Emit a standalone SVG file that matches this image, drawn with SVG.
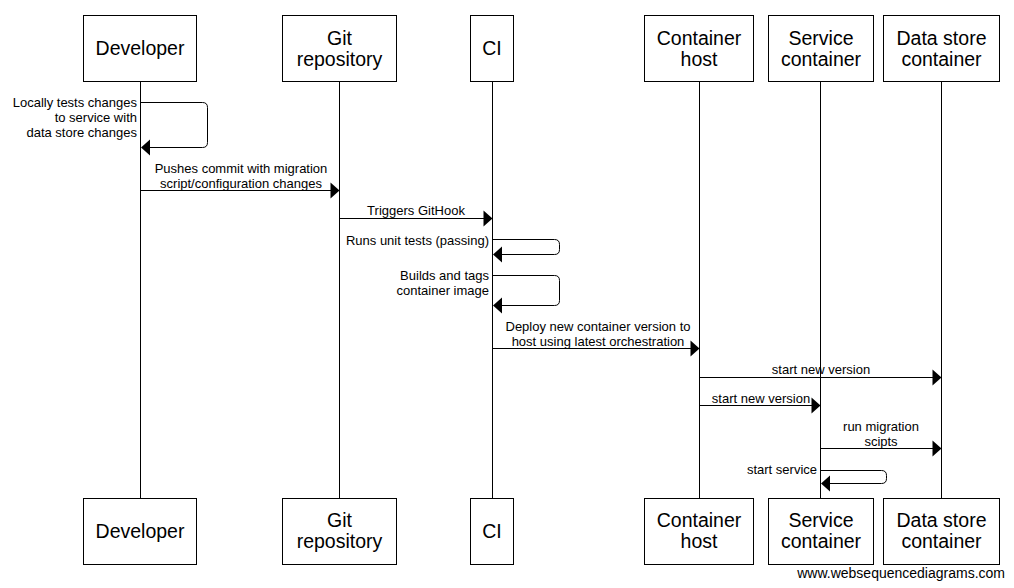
<svg xmlns="http://www.w3.org/2000/svg" width="1014" height="588" viewBox="0 0 1014 588">
<style>
.box{fill:#fff;stroke:#000;stroke-width:1}
.life{stroke:#000;stroke-width:1}
.t{font-family:"Liberation Sans",Arial,sans-serif;font-size:19.5px;text-anchor:middle;fill:#000}
.m{font-family:"Liberation Sans",Arial,sans-serif;font-size:13px;fill:#000}
.c{text-anchor:middle}
.r{text-anchor:end}
.ln{fill:none;stroke:#000;stroke-width:1}
.ah{fill:#000}
</style>
<rect width="1014" height="588" fill="#fff"/>
<g id="lifelines">
<line class="life" x1="140.5" y1="81" x2="140.5" y2="498"/>
<line class="life" x1="339.5" y1="81" x2="339.5" y2="498"/>
<line class="life" x1="492.5" y1="81" x2="492.5" y2="498"/>
<line class="life" x1="699.5" y1="81" x2="699.5" y2="498"/>
<line class="life" x1="820.5" y1="81" x2="820.5" y2="498"/>
<line class="life" x1="941.5" y1="81" x2="941.5" y2="498"/>
</g>
<g id="developer">
<rect class="box" x="83.5" y="15.5" width="113" height="66"/>
<text class="t" x="140" y="55">Developer</text>
<rect class="box" x="83.5" y="498.5" width="113" height="66"/>
<text class="t" x="140" y="538">Developer</text>
</g>
<g id="git">
<rect class="box" x="282.5" y="15.5" width="114" height="66"/>
<text class="t" x="339.5" y="45">Git</text>
<text class="t" x="339.5" y="66">repository</text>
<rect class="box" x="282.5" y="498.5" width="114" height="66"/>
<text class="t" x="339.5" y="527">Git</text>
<text class="t" x="339.5" y="548">repository</text>
</g>
<g id="ci">
<rect class="box" x="470.5" y="15.5" width="43" height="66"/>
<text class="t" x="492" y="55">CI</text>
<rect class="box" x="470.5" y="498.5" width="43" height="66"/>
<text class="t" x="492" y="538">CI</text>
</g>
<g id="containerhost">
<rect class="box" x="644.5" y="15.5" width="109" height="66"/>
<text class="t" x="699" y="45">Container</text>
<text class="t" x="699" y="66">host</text>
<rect class="box" x="644.5" y="498.5" width="109" height="66"/>
<text class="t" x="699" y="527">Container</text>
<text class="t" x="699" y="548">host</text>
</g>
<g id="servicecontainer">
<rect class="box" x="768.5" y="15.5" width="105" height="66"/>
<text class="t" x="821" y="45">Service</text>
<text class="t" x="821" y="66">container</text>
<rect class="box" x="768.5" y="498.5" width="105" height="66"/>
<text class="t" x="821" y="527">Service</text>
<text class="t" x="821" y="548">container</text>
</g>
<g id="datastore">
<rect class="box" x="883.5" y="15.5" width="116" height="66"/>
<text class="t" x="941.5" y="45">Data store</text>
<text class="t" x="941.5" y="66">container</text>
<rect class="box" x="883.5" y="498.5" width="116" height="66"/>
<text class="t" x="941.5" y="527">Data store</text>
<text class="t" x="941.5" y="548">container</text>
</g>
<g id="connectors">
<path class="ln" d="M141,102.5 H202.5 Q207.5,102.5 207.5,107.5 V142.5 Q207.5,147.5 202.5,147.5 H150"/>
<polygon class="ah" points="141,147.5 150,139.5 150,155.5"/>
<text class="m r" x="137" y="107">Locally tests changes</text>
<text class="m r" x="137" y="122">to service with</text>
<text class="m r" x="137" y="137">data store changes</text>

<line class="ln" x1="141" y1="190.5" x2="331" y2="190.5"/>
<polygon class="ah" points="339.5,190.5 330.5,182.5 330.5,198.5"/>
<text class="m c" x="241" y="173">Pushes commit with migration</text>
<text class="m c" x="241" y="188">script/configuration changes</text>

<line class="ln" x1="340" y1="218.5" x2="484" y2="218.5"/>
<polygon class="ah" points="492.5,218.5 483.5,210.5 483.5,226.5"/>
<text class="m c" x="416" y="215">Triggers GitHook</text>

<path class="ln" d="M493,239.5 H554.5 Q559.5,239.5 559.5,244.5 V249.5 Q559.5,254.5 554.5,254.5 H502"/>
<polygon class="ah" points="493,254.5 502,246.5 502,262.5"/>
<text class="m r" x="489" y="245">Runs unit tests (passing)</text>

<path class="ln" d="M493,275.5 H554.5 Q559.5,275.5 559.5,280.5 V300.5 Q559.5,305.5 554.5,305.5 H502"/>
<polygon class="ah" points="493,305.5 502,297.5 502,313.5"/>
<text class="m r" x="489" y="280">Builds and tags</text>
<text class="m r" x="489" y="295">container image</text>

<line class="ln" x1="493" y1="348.5" x2="691" y2="348.5"/>
<polygon class="ah" points="699.5,348.5 690.5,340.5 690.5,356.5"/>
<text class="m c" x="598" y="331">Deploy new container version to</text>
<text class="m c" x="598" y="346">host using latest orchestration</text>

<line class="ln" x1="700" y1="377.5" x2="933" y2="377.5"/>
<polygon class="ah" points="941.5,377.5 932.5,369.5 932.5,385.5"/>
<text class="m c" x="821" y="374">start new version</text>

<line class="ln" x1="700" y1="405.5" x2="812" y2="405.5"/>
<polygon class="ah" points="820.5,405.5 811.5,397.5 811.5,413.5"/>
<text class="m c" x="761" y="403">start new version</text>

<line class="ln" x1="821" y1="448.5" x2="933" y2="448.5"/>
<polygon class="ah" points="941.5,448.5 932.5,440.5 932.5,456.5"/>
<text class="m c" x="881" y="431">run migration</text>
<text class="m c" x="881" y="446">scipts</text>

<path class="ln" d="M821,470.5 H881.5 Q886.5,470.5 886.5,475.5 V478.5 Q886.5,483.5 881.5,483.5 H830"/>
<polygon class="ah" points="821,483.5 830,475.5 830,491.5"/>
<text class="m r" x="817" y="474">start service</text>
</g>
<text class="m r" x="1005" y="578" style="font-size:14px">www.websequencediagrams.com</text>
</svg>
